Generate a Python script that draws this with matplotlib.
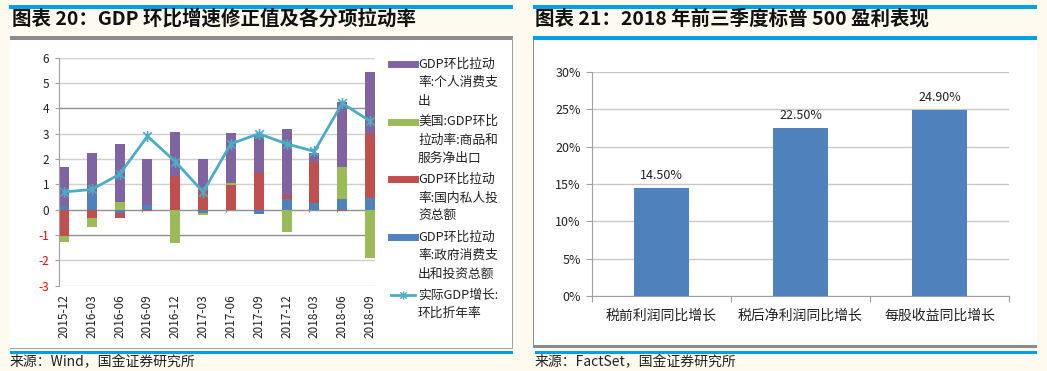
# -*- coding: utf-8 -*-
"""US GDP contributions and S&P 500 earnings growth, two panels."""

import numpy as np
import matplotlib
matplotlib.use("Agg")
from matplotlib import pyplot as plt
from matplotlib.patches import Rectangle
from matplotlib.lines import Line2D
from matplotlib.path import Path

plt.rcParams['font.family'] = ['Noto Sans CJK SC', 'DejaVu Sans']
plt.rcParams['axes.unicode_minus'] = False

# left chart data
dates = ["2015-12", "2016-03", "2016-06", "2016-09", "2016-12", "2017-03",
         "2017-06", "2017-09", "2017-12", "2018-03", "2018-06", "2018-09"]
pce = [1.54, 1.64, 2.31, 1.81, 1.75, 1.17, 1.97, 1.53, 2.61, 0.34, 2.58, 2.43]
net_exports = [-0.21, -0.35, 0.29, 0.03, -1.28, -0.10, 0.07, 0.02, -0.89, 0.0, 1.26, -1.91]
private_inv = [-1.05, -0.32, -0.19, -0.05, 1.33, 0.83, 0.98, 1.44, 0.17, 1.60, -0.05, 2.54]
government = [0.13, 0.60, -0.13, 0.17, -0.03, -0.12, 0.0, -0.17, 0.41, 0.28, 0.41, 0.45]
real_gdp = [0.7, 0.8, 1.4, 2.9, 1.9, 0.7, 2.6, 3.0, 2.6, 2.3, 4.2, 3.5]
legend_labels = ["GDP环比拉动\n率:个人消费支\n出",
                 "美国:GDP环比\n拉动率:商品和\n服务净出口",
                 "GDP环比拉动\n率:国内私人投\n资总额",
                 "GDP环比拉动\n率:政府消费支\n出和投资总额",
                 "实际GDP增长:\n环比折年率"]
left_yticks = [-3, -2, -1, 0, 1, 2, 3, 4, 5, 6]

# right chart data
categories = ["税前利润同比增长", "税后净利润同比增长", "每股收益同比增长"]
growth = [14.5, 22.5, 24.9]
right_yticks = [0, 5, 10, 15, 20, 25, 30]

titles = ["图表 20：GDP 环比增速修正值及各分项拉动率",
          "图表 21：2018 年前三季度标普 500 盈利表现"]
sources = ["来源：Wind，国金证券研究所", "来源：FactSet，国金证券研究所"]

W, H = 1047, 371
BG = "#fffaf0"
BLUE_LINE = "#00a0e9"
C_PUR, C_GRN, C_RED, C_BLU, C_LINE = "#8064a2", "#9bbb59", "#c0504d", "#4f81bd", "#4bacc6"

# excel-like star marker: an X with a vertical stroke
STAR = Path([(-1, -1), (1, 1), (-1, 1), (1, -1), (0, -1.3), (0, 1.3)],
            [Path.MOVETO, Path.LINETO, Path.MOVETO, Path.LINETO,
             Path.MOVETO, Path.LINETO])


def fx(x):
    return x / W


def fy(y):
    return 1 - y / H


def box(fig, x0, y0, x1, y1, color):
    """Rectangle given in pixel coords (top-left origin)."""
    fig.add_artist(Rectangle((fx(x0), fy(y1)), fx(x1) - fx(x0), fy(y0) - fy(y1),
                             transform=fig.transFigure, facecolor=color,
                             edgecolor="none", zorder=0))


fig = plt.figure(figsize=(W / 100, H / 100), dpi=100)
fig.patch.set_facecolor(BG)

# frames
box(fig, 10, 38, 513, 349, "white")
box(fig, 10, 36.5, 513, 39.5, "#8c8c8c")
box(fig, 512, 38, 513, 349, "#a0a0a0")
box(fig, 10, 348, 513, 349, "#a0a0a0")
box(fig, 533, 39, 1037, 347, "white")
box(fig, 533, 39, 534, 347, "#8c8c8c")
box(fig, 533, 344.5, 1037, 347.5, "#8c8c8c")
for x0, x1 in [(9, 513), (533, 1037)]:
    box(fig, x0, 5.5, x1, 8.5, BLUE_LINE)
box(fig, 533, 36.5, 1037, 39.5, BLUE_LINE)
box(fig, 10, 350.5, 513, 353.5, BLUE_LINE)
box(fig, 535, 350.5, 1037, 353.5, BLUE_LINE)

for x, t in zip([12, 535], titles):
    fig.text(fx(x), fy(19), t, fontsize=14, fontweight="bold", va="center",
             ha="left", color="#111111")
for x, t in zip([10, 535], sources):
    fig.text(fx(x), fy(362), t, fontsize=10, va="center", ha="left", color="#222222")

# ---------------- left chart ----------------
ax = fig.add_axes([fx(59), fy(285.7), fx(375) - fx(59), fy(57.7) - fy(285.7)])
ax.set_facecolor("none")
x = np.arange(len(dates))
bw = 0.36
pos_base = np.zeros(len(dates))
neg_base = np.zeros(len(dates))
for vals, col in [(government, C_BLU), (private_inv, C_RED),
                  (net_exports, C_GRN), (pce, C_PUR)]:
    vals = np.array(vals)
    bottom = np.where(vals >= 0, pos_base, neg_base)
    ax.bar(x, vals, bw, bottom=bottom, color=col, zorder=2)
    pos_base = pos_base + np.clip(vals, 0, None)
    neg_base = neg_base + np.clip(vals, None, 0)
ax.plot(x, real_gdp, color=C_LINE, lw=2, marker=STAR, ms=8, mew=1.2,
        mec=C_LINE, zorder=3)

ax.set_ylim(-3, 6)
ax.set_xlim(-0.18, 11.18)
ax.set_yticks(left_yticks)
for v in left_yticks:
    dark = v in (4, 0, -1)
    ax.axhline(v, color="#8f8f8f" if dark else "#cfcfcf", lw=1, zorder=1)
ax.vlines(x - bw / 2, -0.1, 0, color="#8a8a8a", lw=0.8, zorder=1)
ax.set_yticklabels([str(v) for v in left_yticks], fontsize=8.5)
for lab, v in zip(ax.get_yticklabels(), left_yticks):
    lab.set_color("red" if v < 0 else "#222222")
ax.set_xticks(x)
ax.set_xticklabels(dates, rotation=90, fontsize=8.5, color="#222222")
ax.tick_params(axis="x", length=0, pad=6)
ax.tick_params(axis="y", length=3, color="#a0a0a0", pad=4)
for s in ["top", "right", "bottom"]:
    ax.spines[s].set_visible(False)
ax.spines["left"].set_color("#a0a0a0")

# legend drawn by hand to get the wrapped labels
legend_handles = [C_PUR, C_GRN, C_RED, C_BLU, C_LINE]
for i, (col, lab) in enumerate(zip(legend_handles, legend_labels)):
    ytop = 64 + 57.7 * i
    if i < 4:
        fig.add_artist(Line2D([fx(391), fx(415)], [fy(ytop), fy(ytop)], lw=5,
                              color=col, transform=fig.transFigure))
    else:
        fig.add_artist(Line2D([fx(391), fx(415)], [fy(ytop), fy(ytop)], lw=2,
                              color=col, transform=fig.transFigure))
        fig.add_artist(Line2D([fx(403)], [fy(ytop)], marker=STAR, ms=6,
                              mew=1, color=col, transform=fig.transFigure))
    for j, line in enumerate(lab.split("\n")):
        fig.text(fx(418), fy(ytop + 18.5 * j), line, fontsize=9.2, va="center",
                 ha="left", color="#222222")

# ---------------- right chart ----------------
ax2 = fig.add_axes([fx(592), fy(296), fx(1009) - fx(592), fy(72) - fy(296)])
ax2.set_facecolor("none")
xc = np.arange(len(categories))
ax2.bar(xc, growth, 0.4, color=C_BLU, zorder=2)
for xi, v in zip(xc, growth):
    ax2.text(xi, v + 0.8, "{:.2f}%".format(v), ha="center", va="bottom",
             fontsize=9, color="#222222")
ax2.set_ylim(0, 30)
ax2.set_xlim(-0.5, 2.5)
ax2.set_yticks(right_yticks)
ax2.set_yticklabels(["{}%".format(v) for v in right_yticks], fontsize=9,
                    color="#222222")
ax2.yaxis.grid(True, color="#c8c8c8", lw=1, zorder=0)
ax2.set_axisbelow(True)
ax2.set_xticks(np.arange(len(categories) + 1) - 0.5)
ax2.set_xticklabels([])
ax2.set_xticks(xc, minor=True)
ax2.set_xticklabels(categories, minor=True, fontsize=10, color="#222222")
ax2.tick_params(axis="x", which="major", length=4, color="#a0a0a0")
ax2.tick_params(axis="x", which="minor", length=0, pad=9)
ax2.tick_params(axis="y", length=4, color="#a0a0a0", pad=4)
for s in ["top", "right"]:
    ax2.spines[s].set_visible(False)
ax2.spines["left"].set_color("#a0a0a0")
ax2.spines["bottom"].set_color("#a0a0a0")

fig.savefig("out.png", dpi=100, facecolor=BG)
